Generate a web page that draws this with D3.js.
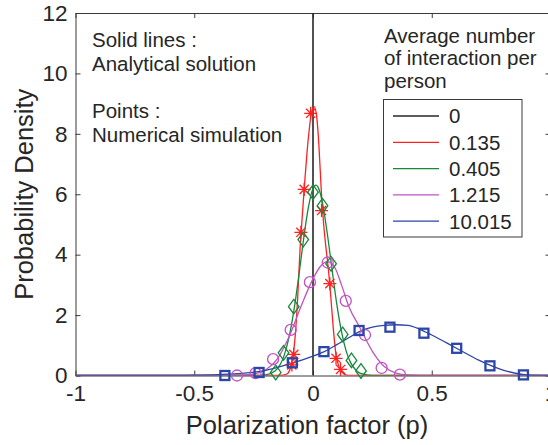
<!DOCTYPE html>
<html>
<head>
<meta charset="utf-8">
<script src="https://cdn.jsdelivr.net/npm/d3@7"></script>
<style>
  html, body { margin: 0; padding: 0; background: #fff; }
  svg { display: block; }
  text { font-family: "Liberation Sans", Arial, Helvetica, sans-serif; fill: #262626; }
</style>
</head>
<body>
<svg id="chart" width="548" height="445"></svg>
<script>
// Legend entries: average number of interactions per person
const seriesNames = ["0", "0.135", "0.405", "1.215", "10.015"];
const seriesColors = ["#262626", "#ff2020", "#17873a", "#c153c1", "#2c45a8"];

// Analytical solutions (solid lines), [p, density]
const curve0 = [[0, 0], [0, 12]];
const curve0135 = [[-1, 0], [-0.14, 0], [-0.11, 0.05], [-0.095, 0.25], [-0.085, 0.6], [-0.075, 1.3],
  [-0.065, 2.5], [-0.055, 4.1], [-0.045, 5.3], [-0.035, 6.4], [-0.025, 7.4], [-0.015, 8.2],
  [-0.005, 8.75], [0.005, 8.9], [0.015, 8.6], [0.025, 7.6], [0.035, 6.1], [0.045, 5.0],
  [0.055, 4.2], [0.065, 3.5], [0.075, 2.6], [0.085, 1.6], [0.095, 0.8], [0.105, 0.4],
  [0.115, 0.2], [0.13, 0.05], [0.15, 0], [1, 0]];
const curve0405 = [[-1, 0], [-0.25, 0], [-0.2, 0.02], [-0.16, 0.15], [-0.12, 0.7], [-0.1, 1.3],
  [-0.08, 2.17], [-0.06, 3.28], [-0.04, 4.49], [-0.02, 5.54], [0, 6.19], [0.012, 6.3],
  [0.02, 6.25], [0.04, 5.71], [0.06, 4.71], [0.08, 3.52], [0.1, 2.37], [0.12, 1.45],
  [0.14, 0.8], [0.16, 0.4], [0.18, 0.18], [0.2, 0.07], [0.25, 0], [1, 0]];
const curve1215 = [[-1, 0], [-0.4, 0], [-0.3, 0.01], [-0.25, 0.05], [-0.2, 0.18], [-0.15, 0.55],
  [-0.1, 1.3], [-0.05, 2.3], [0, 3.2], [0.03, 3.6], [0.06, 3.77], [0.09, 3.6], [0.12, 3.0],
  [0.15, 2.3], [0.2, 1.55], [0.25, 0.8], [0.3, 0.3], [0.35, 0.08], [0.4, 0.02], [0.5, 0], [1, 0]];
const curve10015 = [[-1, 0], [-0.6, 0], [-0.5, 0.01], [-0.4, 0.03], [-0.3, 0.07], [-0.2, 0.17],
  [-0.1, 0.38], [0, 0.64], [0.05, 0.8], [0.1, 1.02], [0.15, 1.25], [0.2, 1.47], [0.25, 1.6],
  [0.3, 1.66], [0.35, 1.68], [0.4, 1.66], [0.45, 1.53], [0.5, 1.34], [0.6, 0.92], [0.7, 0.5],
  [0.8, 0.18], [0.9, 0.02], [1, 0]];

// Numerical simulation (points), [p, density]
const sim0135 = [[-0.089, 0.35], [-0.081, 0.7], [-0.051, 4.74], [-0.037, 6.16], [-0.01, 8.68],
  [0.036, 5.46], [0.071, 3.04], [0.097, 0.57], [0.116, 0.2]];
const sim0405 = [[-0.157, 0.1], [-0.124, 0.75], [-0.081, 2.28], [-0.041, 4.5], [0.0, 6.07],
  [0.04, 5.62], [0.076, 3.7], [0.125, 1.36], [0.162, 0.5], [0.202, 0.15]];
const sim1215 = [[-0.32, 0.0], [-0.242, 0.08], [-0.168, 0.54], [-0.094, 1.51], [-0.013, 3.09],
  [0.062, 3.74], [0.138, 2.47], [0.219, 1.34], [0.289, 0.25], [0.366, 0.03]];
const sim10015 = [[-0.371, 0.0], [-0.227, 0.1], [-0.087, 0.42], [0.046, 0.79], [0.194, 1.49],
  [0.324, 1.6], [0.467, 1.4], [0.605, 0.9], [0.745, 0.32], [0.886, 0.02]];

// Axis ticks
const xTicks = [-1, -0.5, 0, 0.5, 1];
const yTicks = [0, 2, 4, 6, 8, 10, 12];

const annotationLines = ["Solid lines :", "Analytical solution", "", "Points :", "Numerical simulation"];
const legendTitle = ["Average number", "of interaction per", "person"];

const svg = d3.select("#chart");
const plotLeft = 75.5, plotRight = 550.5, plotTop = 13, plotBottom = 375.5;
const x = d3.scaleLinear().domain([-1, 1]).range([plotLeft, plotRight]);
const y = d3.scaleLinear().domain([0, 12]).range([plotBottom, plotTop]);

const axisColor = "#3a3a3a";
const tickFont = "22.5px";

// Plot clip
svg.append("defs").append("clipPath").attr("id", "plotClip")
  .append("rect").attr("x", plotLeft).attr("y", plotTop)
  .attr("width", plotRight - plotLeft).attr("height", plotBottom - plotTop);

const fmt = d => (d === 0 ? "0" : String(d));

function styleAxis(g, showLabels) {
  g.selectAll(".domain").attr("stroke", axisColor).attr("stroke-width", 1);
  g.selectAll(".tick line").attr("stroke", axisColor).attr("stroke-width", 1);
  g.selectAll(".tick text")
    .style("font-size", tickFont)
    .style("font-family", "'Liberation Sans', Arial, sans-serif")
    .attr("fill", "#262626");
  if (!showLabels) g.selectAll(".tick text").remove();
}

// Axes with inward ticks on all four sides
svg.append("g").attr("transform", `translate(0,${plotBottom})`)
  .call(d3.axisBottom(x).tickValues(xTicks).tickFormat(fmt).tickSizeInner(-5).tickSizeOuter(0).tickPadding(10))
  .call(g => styleAxis(g, true));
svg.append("g").attr("transform", `translate(0,${plotTop})`)
  .call(d3.axisTop(x).tickValues(xTicks).tickSizeInner(-5).tickSizeOuter(0))
  .call(g => styleAxis(g, false));
svg.append("g").attr("transform", `translate(${plotLeft},0)`)
  .call(d3.axisLeft(y).tickValues(yTicks).tickFormat(fmt).tickSizeInner(-5).tickSizeOuter(0).tickPadding(8))
  .call(g => styleAxis(g, true));
svg.append("g").attr("transform", `translate(${plotRight},0)`)
  .call(d3.axisRight(y).tickValues(yTicks).tickSizeInner(-5).tickSizeOuter(0))
  .call(g => styleAxis(g, false));

// Axis titles
svg.append("text")
  .attr("x", 307).attr("y", 434)
  .attr("text-anchor", "middle")
  .style("font-size", "25.5px")
  .text("Polarization factor (p)");
svg.append("text")
  .attr("transform", `translate(33,${(plotTop + plotBottom) / 2}) rotate(-90)`)
  .attr("text-anchor", "middle")
  .style("font-size", "25.5px")
  .text("Probability Density");

// Marker shapes
const markerShapes = [
  null,
  // asterisk
  (g, c) => g.append("path")
    .attr("d", "M-6.5,0H6.5M0,-6.5V6.5M-4.6,-4.6L4.6,4.6M-4.6,4.6L4.6,-4.6")
    .attr("fill", "none").attr("stroke", c).attr("stroke-width", 1.3),
  // diamond
  (g, c) => g.append("path")
    .attr("d", "M0,-7.3L5.3,0L0,7.3L-5.3,0Z")
    .attr("fill", "none").attr("stroke", c).attr("stroke-width", 1.3),
  // circle
  (g, c) => g.append("circle").attr("r", 5.5)
    .attr("fill", "none").attr("stroke", c).attr("stroke-width", 1.3),
  // square
  (g, c) => g.append("rect").attr("x", -4.5).attr("y", -4.5).attr("width", 9).attr("height", 9)
    .attr("fill", "none").attr("stroke", c).attr("stroke-width", 2.3)
];

const curves = [curve0, curve0135, curve0405, curve1215, curve10015];
const sims = [null, sim0135, sim0405, sim1215, sim10015];

const line = d3.line()
  .x(d => x(d[0]))
  .y(d => y(d[1]))
  .curve(d3.curveMonotoneX);
const straight = d3.line().x(d => x(d[0])).y(d => y(d[1]));

const plot = svg.append("g").attr("clip-path", "url(#plotClip)");
curves.forEach((cv, i) => {
  plot.append("path")
    .datum(cv)
    .attr("d", i === 0 ? straight : line)
    .attr("fill", "none")
    .attr("stroke", seriesColors[i])
    .attr("stroke-width", i === 0 ? 1.6 : 1.3);
  if (sims[i]) {
    svg.append("g").selectAll("g")
      .data(sims[i])
      .join("g")
      .attr("transform", d => `translate(${x(d[0])},${y(d[1])})`)
      .each(function () { markerShapes[i](d3.select(this), seriesColors[i]); });
  }
});

// Annotation text block
const ann = svg.append("text").style("font-size", "20.5px");
annotationLines.forEach((t, i) => {
  if (t) ann.append("tspan").attr("x", 92).attr("y", 47 + i * 23.8).text(t);
});

// Legend title
const lt = svg.append("text").style("font-size", "20.5px");
legendTitle.forEach((t, i) => {
  lt.append("tspan").attr("x", 384).attr("y", 42.5 + i * 22.5).text(t);
});

// Legend box
const lgX = 383.5, lgY = 99.5, lgW = 138.5, lgH = 137.5;
svg.append("rect").attr("x", lgX).attr("y", lgY).attr("width", lgW).attr("height", lgH)
  .attr("fill", "#fff").attr("stroke", axisColor).attr("stroke-width", 1);
seriesNames.forEach((name, i) => {
  const cy = 116 + i * 26.3;
  svg.append("line").attr("x1", 393).attr("x2", 439).attr("y1", cy).attr("y2", cy)
    .attr("stroke", seriesColors[i]).attr("stroke-width", 1.3);
  svg.append("text").attr("x", 449).attr("y", cy + 7.3).style("font-size", "20.5px").text(name);
});
</script>
</body>
</html>
